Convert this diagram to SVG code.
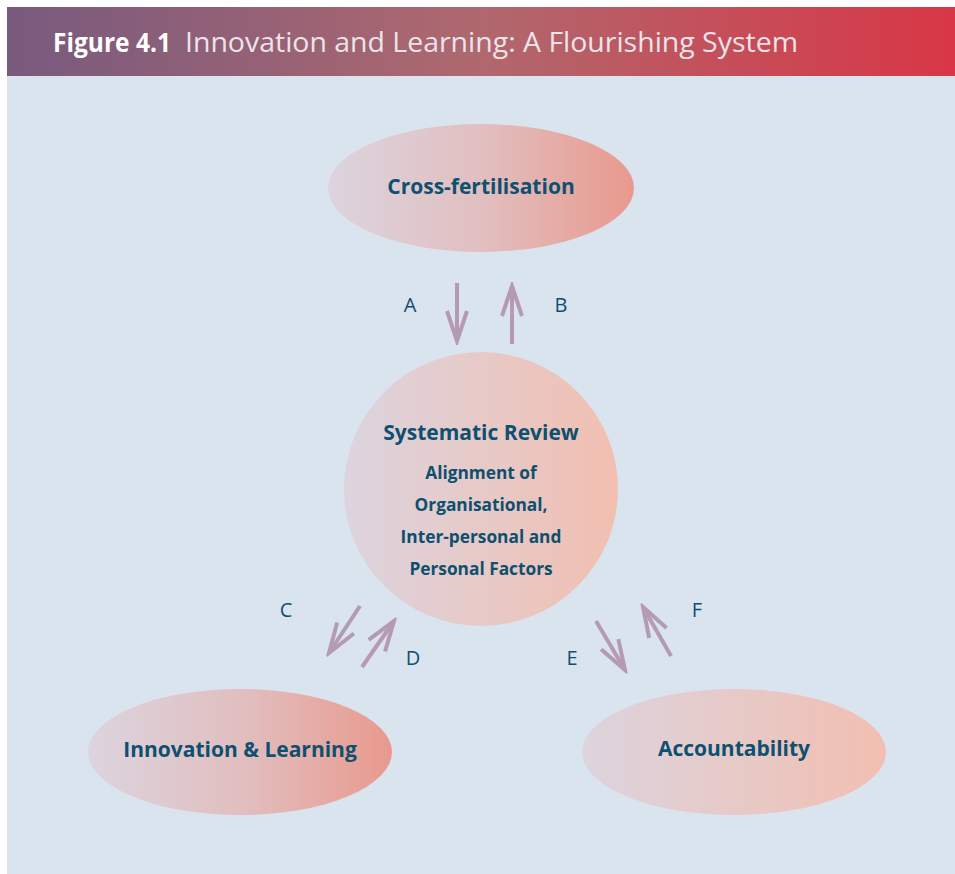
<svg xmlns="http://www.w3.org/2000/svg" width="955" height="874" viewBox="0 0 955 874">
<defs>
<linearGradient id="hdr" x1="0" y1="0" x2="1" y2="0">
<stop offset="0" stop-color="#785a7e"/>
<stop offset="0.5" stop-color="#b0686e"/>
<stop offset="1" stop-color="#d93646"/>
</linearGradient>
<linearGradient id="gStrong" x1="0" y1="0" x2="1" y2="0">
<stop offset="0" stop-color="#dcd4de"/>
<stop offset="0.5" stop-color="#e1bfc0"/>
<stop offset="1" stop-color="#e9998d"/>
</linearGradient>
<linearGradient id="gSoft" x1="0" y1="0" x2="1" y2="0">
<stop offset="0" stop-color="#dcd4de"/>
<stop offset="1" stop-color="#f2bfb1"/>
</linearGradient>
<marker id="head" markerUnits="userSpaceOnUse" viewBox="-34 -14 38 28" markerWidth="38" markerHeight="28" refX="0" refY="0" orient="auto">
<path d="M-30,-10 L0,0 L-30,10" fill="none" stroke="#b49bb3" stroke-width="4"/>
</marker>
</defs>
<style>
.node-t{font-family:"Open Sans","Noto Sans",sans-serif;font-weight:bold;fill:#0d5070;text-anchor:middle}
.lbl{font-family:"Open Sans","Noto Sans",sans-serif;font-size:20px;fill:#0d5070;text-anchor:middle}
.arr{fill:none;stroke:#b49bb3;stroke-width:4;marker-end:url(#head)}
</style>
<rect x="0" y="0" width="955" height="874" fill="#ffffff"/>
<rect x="7" y="7" width="948" height="867" fill="#dae4ee"/>
<rect x="7" y="7" width="948" height="69" fill="url(#hdr)"/>
<text x="53" y="52" font-family="Open Sans,Noto Sans,sans-serif" font-size="27"><tspan font-weight="bold" fill="#ffffff" textLength="118" lengthAdjust="spacingAndGlyphs">Figure 4.1</tspan><tspan fill="#ece4ea" x="185" textLength="613" lengthAdjust="spacingAndGlyphs">Innovation and Learning: A Flourishing System</tspan></text>

<g id="cross-fertilisation">
<ellipse cx="481" cy="188" rx="153" ry="64" fill="url(#gStrong)"/>
<text class="node-t" x="481" y="194" font-size="21">Cross-fertilisation</text>
</g>
<g id="systematic-review">
<circle cx="481" cy="489" r="137" fill="url(#gSoft)"/>
<text class="node-t" x="481" y="440" font-size="21">Systematic Review</text>
<text class="node-t" x="481" y="479" font-size="17.3">Alignment of</text>
<text class="node-t" x="481" y="511" font-size="17.3">Organisational,</text>
<text class="node-t" x="481" y="543" font-size="17.3">Inter-personal and</text>
<text class="node-t" x="481" y="575" font-size="17.3">Personal Factors</text>
</g>
<g id="innovation-learning">
<ellipse cx="240" cy="752" rx="152" ry="63" fill="url(#gStrong)"/>
<text class="node-t" x="240" y="757" font-size="21">Innovation &amp; Learning</text>
</g>
<g id="accountability">
<ellipse cx="734" cy="752" rx="152" ry="63" fill="url(#gSoft)"/>
<text class="node-t" x="734" y="756" font-size="21">Accountability</text>
</g>

<g id="connectors">
<path class="arr" d="M457,283 L457,341"/>
<path class="arr" d="M512,344 L512,286"/>
<path class="arr" d="M360,606 L329,653"/>
<path class="arr" d="M362,667 L394,621"/>
<path class="arr" d="M596,621 L625,670"/>
<path class="arr" d="M671,656 L643,607"/>
<text class="lbl" x="410" y="312">A</text>
<text class="lbl" x="561" y="312">B</text>
<text class="lbl" x="286" y="617">C</text>
<text class="lbl" x="413" y="665">D</text>
<text class="lbl" x="572" y="665">E</text>
<text class="lbl" x="697" y="617">F</text>
</g>
</svg>
